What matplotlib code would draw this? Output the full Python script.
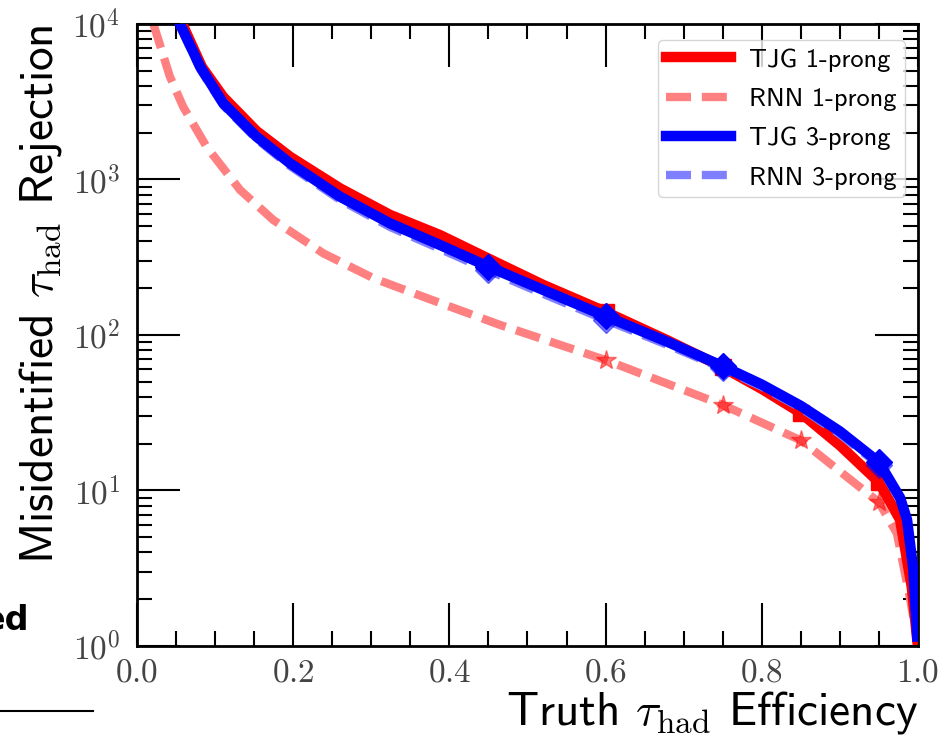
import math
import matplotlib
matplotlib.use('Agg')
import matplotlib.pyplot as plt
from matplotlib.lines import Line2D
from matplotlib.ticker import MultipleLocator, LogLocator, NullFormatter, FuncFormatter

plt.rcParams['mathtext.fontset'] = 'cm'

# ROC curves: truth tau efficiency vs. fake rejection
eff_tjg_1p = [0.058, 0.083, 0.1105, 0.153, 0.196, 0.26, 0.324, 0.388, 0.45, 0.52,
              0.60, 0.68, 0.75, 0.80, 0.85, 0.90, 0.95, 0.977, 0.992, 0.999]
rej_tjg_1p = [10000, 5300, 3390, 2050, 1400, 877, 592, 439, 310, 210,
              141, 92, 62, 45, 31.5, 19.5, 11.3, 6.5, 2.4, 1.1]

eff_rnn_1p = [0.021, 0.042, 0.059, 0.089, 0.132, 0.1745, 0.2386, 0.3026, 0.3666, 0.465,
              0.60, 0.75, 0.85, 0.95, 0.973, 0.99, 0.999]
rej_rnn_1p = [10000, 4600, 2940, 1625, 856, 549, 335, 232, 176, 116,
              69, 35.5, 21, 8.4, 5.3, 2.0, 1.1]

eff_tjg_3p = [0.055, 0.081, 0.1105, 0.153, 0.196, 0.26, 0.324, 0.388, 0.45, 0.52,
              0.60, 0.68, 0.75, 0.80, 0.85, 0.90, 0.95, 0.977, 0.986, 0.994, 0.999]
rej_tjg_3p = [10000, 5300, 3090, 1885, 1270, 775, 522, 379, 275, 195,
              132, 90, 63, 48, 35, 24, 15.2, 9.0, 6.5, 3.1, 1.15]

eff_rnn_3p = [0.055, 0.081, 0.1105, 0.153, 0.196, 0.26, 0.324, 0.388, 0.45, 0.52,
              0.60, 0.68, 0.75, 0.80, 0.85, 0.90, 0.95, 0.977, 0.986, 0.994, 0.999]
rej_rnn_3p = [9700, 5100, 2990, 1820, 1220, 740, 495, 358, 260, 184,
              125, 86, 61, 46.5, 34, 23, 14.6, 8.7, 6.3, 3.0, 1.15]

# working points
wp_eff_1p = [0.60, 0.75, 0.85, 0.95]
wp_tjg_1p = [141, 62, 31.5, 11.3]
wp_rnn_1p = [69, 35.5, 21, 8.4]
wp_eff_3p = [0.45, 0.60, 0.75, 0.95]
wp_tjg_3p = [275, 132, 63, 15.2]
wp_rnn_3p = [260, 125, 61, 14.6]

red = '#ff0000'
lred = '#ff8080'
blue = '#0000ff'
lblue = '#8080ff'

fig = plt.figure(figsize=(9.45, 7.36), dpi=100)
ax = fig.add_axes([0.145, 0.1223, 0.8264, 0.8451])

ax.plot(eff_tjg_1p, rej_tjg_1p, color=red, lw=7.5, label='TJG 1-prong', zorder=3,
        solid_joinstyle='round')
ax.plot(wp_eff_1p, wp_tjg_1p, ls='none', marker='s', ms=12, color=red, zorder=3)
ax.plot(eff_rnn_1p, rej_rnn_1p, color=lred, lw=6, ls='--', dashes=(3.0, 1.3),
        label='RNN 1-prong', zorder=2)
ax.plot(wp_eff_1p, wp_rnn_1p, ls='none', marker='*', ms=15, color=red, alpha=0.5, zorder=2)
ax.plot(eff_tjg_3p, rej_tjg_3p, color=blue, lw=7.5, label='TJG 3-prong', zorder=5,
        solid_joinstyle='round')
ax.plot(wp_eff_3p, wp_tjg_3p, ls='none', marker='D', ms=13, color=blue, zorder=5)
ax.plot(eff_rnn_3p, rej_rnn_3p, color=lblue, lw=6, ls='--', dashes=(3.0, 1.3),
        label='RNN 3-prong', zorder=4)
ax.plot(wp_eff_3p, wp_rnn_3p, ls='none', marker='D', ms=13, color=blue, alpha=0.5, zorder=4)

ax.set_yscale('log')
ax.set_xlim(0, 1)
ax.set_ylim(1, 1e4)

ax.xaxis.set_major_locator(MultipleLocator(0.2))
ax.xaxis.set_minor_locator(MultipleLocator(0.05))
ax.yaxis.set_major_locator(LogLocator(base=10, numticks=10))
ax.yaxis.set_minor_locator(LogLocator(base=10, subs=range(2, 10), numticks=20))
ax.yaxis.set_minor_formatter(NullFormatter())
ax.xaxis.set_major_formatter(FuncFormatter(lambda v, p: r'$%.1f$' % v))
ax.yaxis.set_major_formatter(FuncFormatter(lambda v, p: r'$10^{%d}$' % round(math.log10(v))))

ax.tick_params(which='both', direction='in', top=True, right=True, width=1.5,
               labelsize=24, labelcolor='#444444')
ax.tick_params(which='major', length=31)
ax.tick_params(which='minor', length=11)
ax.tick_params(axis='y', pad=12)
ax.tick_params(axis='x', pad=7)
for s in ax.spines.values():
    s.set_linewidth(2)

ax.set_xlabel(r'Truth $\tau_{\mathrm{had}}$ Efficiency', fontfamily='cmss10',
              fontsize=34, loc='right', labelpad=0)
ax.set_ylabel(r'Misidentified $\tau_{\mathrm{had}}$ Rejection', fontfamily='cmss10',
              fontsize=34, loc='top', labelpad=6)

leg = ax.legend(loc='upper right', prop={'family': 'cmss10', 'size': 19},
                handlelength=2.45, handletextpad=0.7, labelspacing=0.6,
                borderpad=0.3, borderaxespad=0, framealpha=0.8,
                edgecolor='#cccccc', fancybox=True,
                bbox_to_anchor=(0.983, 0.974))
leg.set_zorder(10)

# page fragments around the screenshot
fig.text(29 / 945, 1 - 630 / 736, 'ed', fontweight='bold', fontsize=24,
         ha='right', va='baseline', family='DejaVu Sans')
fig.add_artist(Line2D([0, 93 / 945], [1 - 711 / 736] * 2, color='black', lw=1.5,
                      transform=fig.transFigure))

fig.savefig('out.png', dpi=100)
